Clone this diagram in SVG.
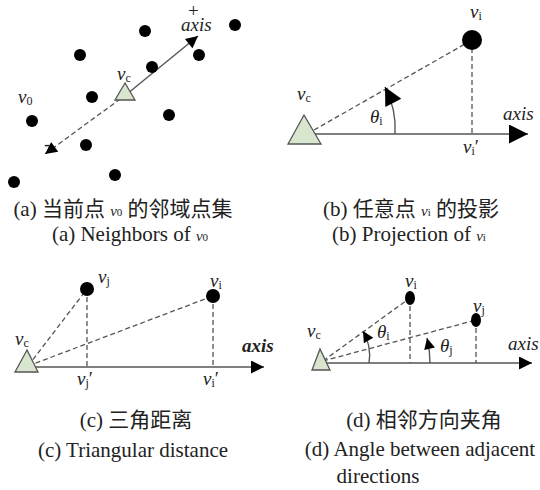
<svg xmlns="http://www.w3.org/2000/svg" width="540" height="490" viewBox="0 0 540 490">
<style>
.t{font-family:"Liberation Serif",serif;fill:#222;font-size:19px}
.v{font-style:italic}
.s{font-size:12px;font-style:normal}
.cap{font-family:"Liberation Serif","Noto Sans CJK SC",serif;font-size:21px;fill:#222;text-anchor:middle}
.cv{font-style:italic;font-size:15px}
.cs{font-size:11px}
.dot{fill:#000}
.tri{fill:#d8e6cf;stroke:#555;stroke-width:1.3}
.ln{stroke:#555;stroke-width:1.4;fill:none}
.ds{stroke:#555;stroke-width:1.3;stroke-dasharray:5,3;fill:none}
</style>
<defs>
<marker id="aS" viewBox="0 0 10 10" refX="10" refY="5" markerUnits="userSpaceOnUse" markerWidth="16" markerHeight="12" orient="auto"><path d="M0,0 L10,5 L0,10 z" fill="#000"/></marker>
<marker id="aB" viewBox="0 0 10 10" refX="10" refY="5" markerUnits="userSpaceOnUse" markerWidth="26" markerHeight="19" orient="auto"><path d="M0,0 L10,5 L0,10 z" fill="#000"/></marker>
<marker id="aM" viewBox="0 0 10 10" refX="10" refY="5" markerUnits="userSpaceOnUse" markerWidth="18" markerHeight="13" orient="auto"><path d="M0,0 L10,5 L0,10 z" fill="#000"/></marker>
<marker id="aC" viewBox="0 0 10 10" refX="10" refY="5" markerUnits="userSpaceOnUse" markerWidth="25" markerHeight="18" orient="auto"><path d="M0,0 L10,5 L0,10 z" fill="#000"/></marker>
<marker id="aD" viewBox="0 0 10 10" refX="10" refY="5" markerUnits="userSpaceOnUse" markerWidth="15" markerHeight="11" orient="auto"><path d="M0,0 L10,5 L0,10 z" fill="#000"/></marker>
</defs>

<g id="connectors">
  <!-- (a) -->
  <line class="ln" x1="127" y1="94" x2="198" y2="36" marker-end="url(#aS)"/>
  <line class="ds" x1="127" y1="94" x2="45" y2="154" marker-end="url(#aS)"/>
  <!-- (b) -->
  <line class="ln" x1="307" y1="134" x2="528" y2="134" marker-end="url(#aB)"/>
  <line class="ds" x1="307" y1="134" x2="472" y2="40"/>
  <line class="ds" x1="472" y1="40" x2="472" y2="134"/>
  <path class="ln" d="M395,134 A90,90 0 0 0 385,87" marker-end="url(#aC)"/>
  <!-- (c) -->
  <line class="ln" x1="28" y1="367" x2="264" y2="367" marker-end="url(#aM)"/>
  <line class="ds" x1="28" y1="366" x2="87" y2="289"/>
  <line class="ds" x1="28" y1="366" x2="213" y2="296"/>
  <line class="ds" x1="87" y1="289" x2="87" y2="367"/>
  <line class="ds" x1="213" y1="296" x2="213" y2="367"/>
  <!-- (d) -->
  <line class="ln" x1="323" y1="363" x2="532" y2="363" marker-end="url(#aM)"/>
  <line class="ds" x1="323" y1="361" x2="410" y2="298"/>
  <line class="ds" x1="323" y1="361" x2="476" y2="320"/>
  <line class="ds" x1="410" y1="298" x2="410" y2="363"/>
  <line class="ds" x1="476" y1="320" x2="476" y2="363"/>
  <path class="ln" d="M369,363 A48,48 0 0 0 363,331" marker-end="url(#aD)"/>
  <path class="ln" d="M430,363 A107,107 0 0 0 427,338" marker-end="url(#aD)"/>
</g>

<g id="panel-a">
  <circle class="dot" cx="145" cy="31" r="6"/>
  <circle class="dot" cx="235" cy="25" r="6"/>
  <circle class="dot" cx="80" cy="55" r="6"/>
  <circle class="dot" cx="199" cy="55" r="6"/>
  <circle class="dot" cx="152" cy="67" r="6"/>
  <circle class="dot" cx="92" cy="97" r="6"/>
  <circle class="dot" cx="32" cy="121" r="6"/>
  <circle class="dot" cx="169" cy="115" r="6"/>
  <circle class="dot" cx="86" cy="145" r="6"/>
  <circle class="dot" cx="115" cy="175" r="6"/>
  <circle class="dot" cx="14" cy="182" r="6"/>
  <g id="a-vc"><polygon class="tri" points="125,83 115,100 135,100"/></g>
  <text class="t" x="188" y="17" font-size="14">+</text>
  <text class="t v" x="181" y="31">axis</text>
  <text class="t v" x="117" y="80">v<tspan class="s" dy="2">c</tspan></text>
  <text class="t v" x="18" y="103">v<tspan class="s" dy="2">0</tspan></text>
  <text class="t" x="44" y="150" font-size="16">-</text>
</g>

<g id="panel-b">
  <circle class="dot" cx="472" cy="40" r="10"/>
  <g id="b-vc"><polygon class="tri" points="304,115 288,144 321,144"/></g>
  <text class="t v" x="470" y="18">v<tspan class="s" dy="2">i</tspan></text>
  <text class="t v" x="297" y="100">v<tspan class="s" dy="2">c</tspan></text>
  <text class="t v" x="370" y="123">θ<tspan class="s" dy="2">i</tspan></text>
  <text class="t v" x="503" y="120" font-size="21">axis</text>
  <text class="t v" x="463" y="153">v<tspan class="s" dy="2">i</tspan><tspan dy="-2" font-style="normal">′</tspan></text>
</g>

<g id="panel-c">
  <circle class="dot" cx="87" cy="289" r="7"/>
  <circle class="dot" cx="213" cy="296" r="7"/>
  <g id="c-vc"><polygon class="tri" points="27,350 15,372 38,372"/></g>
  <text class="t v" x="98" y="283">v<tspan class="s" dy="2">j</tspan></text>
  <text class="t v" x="210" y="287">v<tspan class="s" dy="2">i</tspan></text>
  <text class="t v" x="15" y="345">v<tspan class="s" dy="2">c</tspan></text>
  <text class="t v" x="242" y="352" font-weight="bold" font-size="18">axis</text>
  <text class="t v" x="77" y="385">v<tspan class="s" dy="2">j</tspan><tspan dy="-2" font-style="normal">′</tspan></text>
  <text class="t v" x="203" y="385">v<tspan class="s" dy="2">i</tspan><tspan dy="-2" font-style="normal">′</tspan></text>
</g>

<g id="panel-d">
  <ellipse class="dot" cx="410" cy="298" rx="5" ry="7"/>
  <ellipse class="dot" cx="476" cy="320" rx="5" ry="7"/>
  <g id="d-vc"><polygon class="tri" points="320,349 312,370 330,370"/></g>
  <text class="t v" x="405" y="287">v<tspan class="s" dy="2">i</tspan></text>
  <text class="t v" x="473" y="312">v<tspan class="s" dy="2">j</tspan></text>
  <text class="t v" x="307" y="337">v<tspan class="s" dy="2">c</tspan></text>
  <text class="t v" x="377" y="338">θ<tspan class="s" dy="2">i</tspan></text>
  <text class="t v" x="440" y="352">θ<tspan class="s" dy="2">j</tspan></text>
  <text class="t v" x="508" y="350">axis</text>
</g>

<g id="captions">
  <text class="cap" x="123" y="216">(a) 当前点 <tspan class="cv">v</tspan><tspan class="cs">0</tspan> 的邻域点集</text>
  <text class="cap" x="130" y="241">(a) Neighbors of <tspan class="cv">v</tspan><tspan class="cs">0</tspan></text>
  <text class="cap" x="411" y="216">(b) 任意点 <tspan class="cv">v</tspan><tspan class="cs">i</tspan> 的投影</text>
  <text class="cap" x="409" y="241">(b) Projection of <tspan class="cv">v</tspan><tspan class="cs">i</tspan></text>
  <text class="cap" x="136" y="427">(c) 三角距离</text>
  <text class="cap" x="133" y="457">(c) Triangular distance</text>
  <text class="cap" x="424" y="427">(d) 相邻方向夹角</text>
  <text class="cap" x="420" y="456">(d) Angle between adjacent</text>
  <text class="cap" x="378" y="483">directions</text>
</g>
</svg>
